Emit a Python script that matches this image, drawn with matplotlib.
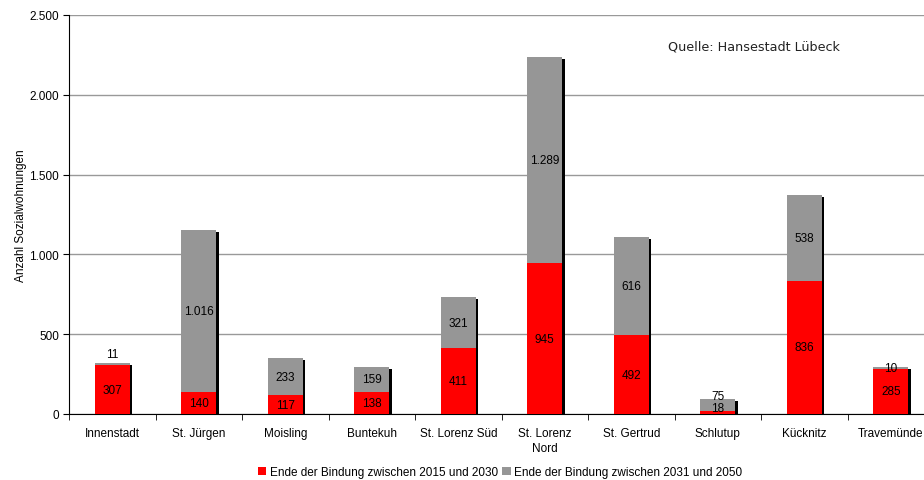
import matplotlib
matplotlib.use("Agg")
import matplotlib.pyplot as plt
import matplotlib.transforms as mtransforms
from matplotlib.patches import Patch
import numpy as np

categories = ["Innenstadt", "St. Jürgen", "Moisling", "Buntekuh", "St. Lorenz Süd",
              "St. Lorenz\nNord", "St. Gertrud", "Schlutup", "Kücknitz", "Travemünde"]
ende_2015_2030 = [307, 140, 117, 138, 411, 945, 492, 18, 836, 285]
ende_2031_2050 = [11, 1016, 233, 159, 321, 1289, 616, 75, 538, 10]
y_ticks = [0, 500, 1000, 1500, 2000, 2500]
y_tick_labels = ["0", "500", "1.000", "1.500", "2.000", "2.500"]
series_names = ["Ende der Bindung zwischen 2015 und 2030",
                "Ende der Bindung zwischen 2031 und 2050"]


def de(v):
    return f"{v:,}".replace(",", ".")


plt.rcParams['font.family'] = ['Liberation Sans', 'DejaVu Sans']
fig = plt.figure(figsize=(9.24, 4.81), dpi=100)
W, H = 924, 481
ax = fig.add_axes([69 / W, (H - 415) / H, (934 - 69) / W, (415 - 16) / H])

x = np.arange(len(categories))
red = "#FF0000"
gray = "#969696"
totals = [a + b for a, b in zip(ende_2015_2030, ende_2031_2050)]
shadow_tr = mtransforms.offset_copy(ax.transData, fig=fig, x=2.5, y=-2, units='dots')
ax.bar(x, totals, width=0.40, color="black", zorder=2.5, transform=shadow_tr)
b1 = ax.bar(x, ende_2015_2030, width=0.40, color=red, zorder=3)
b2 = ax.bar(x, ende_2031_2050, width=0.40, bottom=ende_2015_2030, color=gray, zorder=3)

ax.set_xlim(-0.5, len(categories) - 0.5)
ax.set_ylim(0, 2500)
ax.set_yticks(y_ticks)
ax.set_yticklabels(y_tick_labels, fontsize=8.5)
ax.set_xticks(x)
ax.set_xticklabels(categories, fontsize=8.5, linespacing=1.35)
ax.tick_params(axis='x', length=0, pad=9.5)
ax.set_xticks(np.arange(len(categories) + 1) - 0.5, minor=True)
ax.tick_params(axis='x', which='minor', length=4, direction='out')
ax.tick_params(axis='y', length=4, direction='out', pad=3)
ax.yaxis.grid(True, color="#999999", linewidth=1.0, zorder=0)
ax.set_axisbelow(True)
for s in ["top", "right"]:
    ax.spines[s].set_visible(False)
ax.spines["left"].set_color("black")
ax.spines["bottom"].set_color("black")
ax.set_ylabel("Anzahl Sozialwohnungen", fontsize=8.5, labelpad=2)

# value labels
for i, (a, b) in enumerate(zip(ende_2015_2030, ende_2031_2050)):
    ya = a / 2
    if a < 40:
        ya = a + 20
    ax.text(i, ya, de(a), ha="center", va="center", fontsize=8.5, color="black", zorder=5)
    if b < 15 and i == 0:
        yb = a + b + 55
    elif a < 40:
        yb = a + b + 20
    else:
        yb = a + b / 2
    ax.text(i, yb, de(b), ha="center", va="center", fontsize=8.5, color="black", zorder=5)

fig.text(668 / W, (H - 47) / H, "Quelle: Hansestadt Lübeck", fontsize=9.2, color="#222222",
         ha="left", va="center", family=['DejaVu Sans'])

handles = [Patch(facecolor=red, edgecolor="none"), Patch(facecolor=gray, edgecolor="none")]
fig.legend(handles=handles, labels=series_names, loc="center", ncol=2,
           bbox_to_anchor=(500 / W, (H - 473) / H), frameon=False, fontsize=8.5,
           handlelength=0.7, handleheight=0.7, handletextpad=0.3, columnspacing=0.4,
           borderpad=0)

fig.savefig("out.png", dpi=100)
